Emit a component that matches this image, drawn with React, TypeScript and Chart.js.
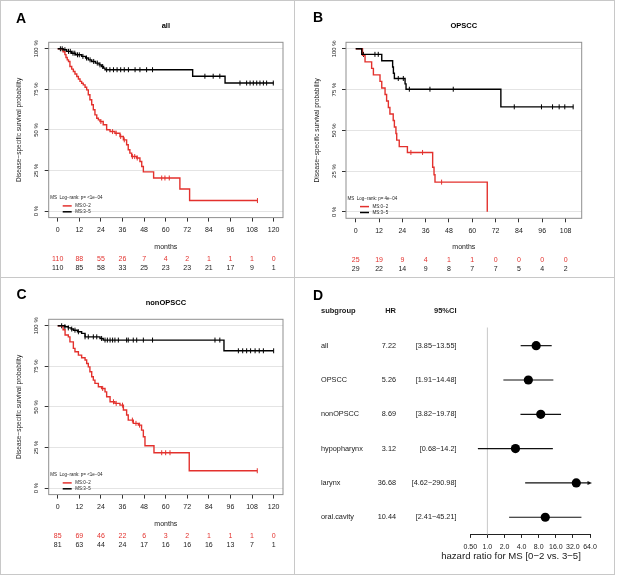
import React, { useEffect, useRef } from 'react';
import { Chart, registerables } from 'chart.js';

Chart.register(...registerables);

const FONT = '"Liberation Sans", Arial, Helvetica, sans-serif';
const RED = '#e3312d';
const INK = '#1a1a1a';
const GRID = '#e4e4e4';
const FRAME = '#c8c8c8';

// ---------- Panel A: all ----------
const aTicks = [0, 12, 24, 36, 48, 60, 72, 84, 96, 108, 120];
const aRedTime = [0, 3, 4, 4.6, 5.3, 6, 6.8, 7.8, 8.7, 9.6, 10.6, 11.5, 12.4, 13.3, 14.2, 15.2, 16.1, 17, 17.9, 18.9, 19.8, 20.7, 21.7, 22.6, 23.5, 25.3, 27.2, 29.1, 31.8, 34.6, 36.5, 38.3, 39.2, 40.1, 41.1, 43.9, 45.7, 46.7, 47.6, 53.3, 67.9, 73.3, 111];
const aRedSurv = [100, 98.2, 96.4, 94.6, 93.2, 92.2, 89.1, 87.5, 86.0, 84.5, 82.9, 81.4, 79.9, 78.8, 77.8, 76.3, 74.7, 71.7, 68.6, 65.5, 62.4, 59.3, 57.2, 56.2, 55.2, 53.2, 50.1, 49.0, 48.0, 46.0, 43.9, 40.9, 37.8, 35.7, 33.6, 32.7, 30.6, 27.5, 24.2, 20.4, 13.6, 6.5, 6.5];
const aRedCensor = [24, 30.5, 32.5, 35, 37, 41.5, 42.8, 44.2, 57.8, 59.6, 62, 111];
const aBlackTime = [0, 3, 5, 7.8, 10, 13.3, 15.5, 17, 18.9, 21, 23, 24.4, 25.5, 26.3, 75, 93, 120];
const aBlackSurv = [100, 99.4, 98.4, 97.3, 96.3, 95.3, 94.3, 93.2, 92.2, 91.2, 90.1, 89.1, 88.1, 87.1, 83.1, 78.9, 78.9];
const aBlackCensor = [1.5, 2.5, 4, 6, 7, 8.5, 9.5, 11, 12, 14, 16, 18, 20, 22, 23.5, 25, 27.2, 29, 31, 33, 35, 37, 39.3, 43, 45.7, 49.4, 52.7, 81.8, 86.4, 90.1, 101.3, 105, 106.9, 108.7, 110.6, 112.4, 114.3, 116.1, 119.8];
const aRiskRed = [110, 88, 55, 26, 7, 4, 2, 1, 1, 1, 0];
const aRiskBlack = [110, 85, 58, 33, 25, 23, 23, 21, 17, 9, 1];

// ---------- Panel B: OPSCC ----------
const bTicks = [0, 12, 24, 36, 48, 60, 72, 84, 96, 108];
const bRedTime = [0, 3.5, 4.8, 8.2, 9.1, 12.5, 13.4, 15.1, 15.9, 16.8, 17.6, 19.3, 19.9, 20.7, 21.1, 22.4, 26.6, 39.6, 40.3, 40.8, 67.7];
const bRedSurv = [100, 96, 92, 88, 84, 80, 76, 72, 68, 64, 60, 56, 52, 48, 44, 40, 36.4, 27.3, 22.7, 18.2, 0];
const bRedCensor = [28.4, 34.4, 44.2];
const bBlackTime = [0, 3.1, 13.4, 19, 19.4, 19.9, 25.4, 25.9, 74.7, 112];
const bBlackSurv = [100, 96.6, 92.7, 88.8, 85, 81.8, 78.5, 75.2, 64.4, 64.4];
const bBlackCensor = [4, 9.9, 11.6, 21.9, 24.5, 27.6, 38.2, 50.2, 81.6, 95.6, 101.3, 104.7, 107.6, 111.9];
const bRiskRed = [25, 19, 9, 4, 1, 1, 0, 0, 0, 0];
const bRiskBlack = [29, 22, 14, 9, 8, 7, 7, 5, 4, 2];

// ---------- Panel C: nonOPSCC ----------
const cTicks = [0, 12, 24, 36, 48, 60, 72, 84, 96, 108, 120];
const cRedTime = [0, 3, 4.1, 5.9, 6.8, 8.7, 9.6, 11.5, 13.3, 15.2, 16.1, 17, 17.9, 18.9, 19.8, 20.7, 22.6, 24.4, 26.3, 27.2, 29.1, 31.8, 34.6, 36.5, 38.3, 39.2, 42, 44.8, 46.6, 47.6, 48.5, 53.5, 73.1, 110.9];
const cRedSurv = [100, 97.6, 94.3, 93.2, 90.1, 86.1, 84.0, 81.9, 80.3, 78.9, 76.8, 74.7, 71.7, 68.6, 66.5, 64.5, 62.4, 61.4, 59.3, 56.3, 53.2, 52.2, 51.1, 48.1, 45.0, 41.9, 39.9, 38.8, 35.7, 31.6, 26.1, 21.8, 10.7, 10.7];
const cRedCensor = [25, 31, 32.5, 36, 41.5, 43.5, 45.5, 57.8, 60, 62.4, 110.9];
const cBlackTime = [0, 4, 5.9, 7.5, 8.7, 11, 13.3, 15.2, 23.5, 25.3, 92.4, 120];
const cBlackSurv = [100, 99.4, 98.7, 98, 97.3, 96.3, 95.3, 93.2, 92.2, 91.2, 84.6, 84.6];
const cBlackCensor = [2.2, 4, 5.9, 7.8, 9.6, 11.5, 15.2, 17, 19.8, 21.7, 24.4, 26.3, 27.6, 29.1, 30.5, 31.8, 33.7, 38.3, 39.2, 42, 43.9, 47.6, 52.7, 87.4, 90.1, 100.4, 102.8, 105, 107.2, 109.7, 112, 114.3, 120];
const cRiskRed = [85, 69, 46, 22, 6, 3, 2, 1, 1, 1, 0];
const cRiskBlack = [81, 63, 44, 24, 17, 16, 16, 16, 13, 7, 1];

const yTicks = [0, 25, 50, 75, 100];

// ---------- Panel D: forest ----------
const subgroups = ['all', 'OPSCC', 'nonOPSCC', 'hypopharynx', 'larynx', 'oral.cavity'];
const hrValues = [7.22, 5.26, 8.69, 3.12, 36.68, 10.44];
const ciLow = [3.85, 1.91, 3.82, 0.68, 4.62, 2.41];
const ciHigh = [13.55, 14.48, 19.78, 14.2, 290.98, 45.21];
const ciLabels = ['[3.85\u221213.55]', '[1.91\u221214.48]', '[3.82\u221219.78]', '[0.68\u221214.2]', '[4.62\u2212290.98]', '[2.41\u221245.21]'];
const hrTicks = [0.5, 1, 2, 4, 8, 16, 32, 64];

function stepAt(T: number[], S: number[], t: number) {
  let s = S[0];
  for (let i = 0; i < T.length; i++) if (T[i] <= t) s = S[i];
  return s;
}

type KMSpec = {
  w: number; h: number;
  plot: { l: number; t: number; r: number; b: number };
  xMin: number; xMax: number; ticks: number[];
  redT: number[]; redS: number[]; redC: number[];
  blackT: number[]; blackS: number[]; blackC: number[];
  riskRed: number[]; riskBlack: number[];
  title: string; letter: string; letterX: number; letterY: number; titleY: number;
  pText: string;
};

function kmConfig(s: KMSpec): any {
  const axisH = s.h - s.plot.b;
  const monthsOffset = 29;
  const titleFont = 7;
  const titlePadBottom = axisH - monthsOffset - (titleFont * 1.2) / 2;
  const decor = {
    id: 'kmDecor',
    afterDraw(chart: any) {
      const { ctx, chartArea: ca, scales } = chart;
      const x = scales.x, y = scales.y;
      ctx.save();
      ctx.strokeStyle = '#8f8f8f';
      ctx.lineWidth = 1;
      ctx.strokeRect(ca.left, ca.top, ca.right - ca.left, ca.bottom - ca.top);
      // y tick labels (rotated)
      ctx.fillStyle = INK;
      ctx.font = `6px ${FONT}`;
      ctx.textAlign = 'center';
      ctx.textBaseline = 'middle';
      for (const v of yTicks) {
        const py = y.getPixelForValue(v);
        ctx.save();
        ctx.translate(ca.left - 12, py);
        ctx.rotate(-Math.PI / 2);
        ctx.fillText(`${v} %`, 0, 0);
        ctx.restore();
      }
      // y title
      ctx.save();
      ctx.font = `6.5px ${FONT}`;
      ctx.translate(ca.left - 29, (y.getPixelForValue(0) + y.getPixelForValue(100)) / 2);
      ctx.rotate(-Math.PI / 2);
      ctx.fillText('Disease\u2212specific survival probability', 0, 0);
      ctx.restore();
      // panel letter
      ctx.fillStyle = '#000';
      ctx.font = `bold 14px ${FONT}`;
      ctx.textAlign = 'left';
      ctx.textBaseline = 'alphabetic';
      ctx.fillText(s.letter, s.letterX, s.letterY);
      // title
      ctx.font = `bold 7.5px ${FONT}`;
      ctx.textAlign = 'center';
      ctx.textBaseline = 'middle';
      ctx.fillText(s.title, (ca.left + ca.right) / 2, s.titleY);
      // legend
      ctx.font = `4.5px ${FONT}`;
      ctx.textAlign = 'left';
      ctx.fillStyle = INK;
      ctx.fillText(s.pText, ca.left + 1.5, ca.bottom - 20);
      ctx.lineWidth = 1.5;
      ctx.strokeStyle = RED;
      ctx.beginPath();
      ctx.moveTo(ca.left + 14, ca.bottom - 11.7);
      ctx.lineTo(ca.left + 23, ca.bottom - 11.7);
      ctx.stroke();
      ctx.strokeStyle = '#000';
      ctx.beginPath();
      ctx.moveTo(ca.left + 14, ca.bottom - 5.8);
      ctx.lineTo(ca.left + 23, ca.bottom - 5.8);
      ctx.stroke();
      ctx.fillText('MS:0\u22122', ca.left + 26.5, ca.bottom - 11.7);
      ctx.fillText('MS:3\u22125', ca.left + 26.5, ca.bottom - 5.8);
      // number at risk
      ctx.font = `7px ${FONT}`;
      ctx.textAlign = 'center';
      s.ticks.forEach((t, i) => {
        const px = x.getPixelForValue(t);
        ctx.fillStyle = RED;
        ctx.fillText(String(s.riskRed[i]), px, ca.bottom + 41.8);
        ctx.fillStyle = INK;
        ctx.fillText(String(s.riskBlack[i]), px, ca.bottom + 50.5);
      });
      ctx.restore();
    },
  };
  const line = (T: number[], S: number[], color: string) => ({
    type: 'line',
    data: T.map((t, i) => ({ x: t, y: S[i] })),
    borderColor: color,
    borderWidth: 1.4,
    stepped: 'before',
    pointRadius: 0,
    fill: false,
  });
  const cens = (T: number[], S: number[], C: number[], color: string) => ({
    type: 'line',
    data: C.map((t) => ({ x: t, y: stepAt(T, S, t) })),
    showLine: false,
    pointStyle: 'line',
    pointRotation: 90,
    pointRadius: 2.5,
    pointBorderWidth: 1,
    pointBorderColor: color,
    borderColor: color,
  });
  return {
    type: 'line',
    data: {
      datasets: [
        line(s.blackT, s.blackS, '#000'),
        line(s.redT, s.redS, RED),
        cens(s.blackT, s.blackS, s.blackC, '#000'),
        cens(s.redT, s.redS, s.redC, RED),
      ],
    },
    options: {
      responsive: false,
      animation: false,
      events: [],
      layout: { padding: { left: 0, top: s.plot.t, right: s.w - s.plot.r, bottom: 0 } },
      plugins: { legend: { display: false }, tooltip: { enabled: false }, title: { display: false } },
      scales: {
        x: {
          type: 'linear',
          min: s.xMin,
          max: s.xMax,
          afterBuildTicks: (sc: any) => { sc.ticks = s.ticks.map((v) => ({ value: v })); },
          afterFit: (sc: any) => { sc.height = axisH; },
          grid: { drawOnChartArea: false, drawTicks: true, tickLength: 4, tickColor: '#333' },
          border: { display: false },
          ticks: { font: { family: FONT, size: 7 }, color: INK, padding: 4.5, maxRotation: 0, autoSkip: false },
          title: { display: true, text: 'months', color: INK, font: { family: FONT, size: titleFont }, padding: { top: 0, bottom: titlePadBottom } },
        },
        y: {
          type: 'linear',
          min: -4,
          max: 104,
          afterBuildTicks: (sc: any) => { sc.ticks = yTicks.map((v) => ({ value: v })); },
          afterFit: (sc: any) => { sc.width = s.plot.l; },
          grid: { color: GRID, tickColor: '#333', drawTicks: true, tickLength: 4 },
          border: { display: false },
          ticks: { display: false },
        },
      },
    },
    plugins: [decor],
  };
}

function forestConfig(w: number, h: number, plot: { l: number; t: number; r: number; b: number }): any {
  const axisH = h - plot.b;
  const decor = {
    id: 'forestDecor',
    beforeDatasetsDraw(chart: any) {
      const { ctx, chartArea: ca, scales } = chart;
      const x = scales.x, y = scales.y;
      ctx.save();
      const rx = x.getPixelForValue(1);
      ctx.strokeStyle = '#c9c9c9';
      ctx.lineWidth = 1;
      ctx.beginPath();
      ctx.moveTo(rx, ca.top - 1);
      ctx.lineTo(rx, ca.bottom);
      ctx.stroke();
      ctx.strokeStyle = '#111';
      ctx.fillStyle = '#111';
      ctx.lineWidth = 1.2;
      subgroups.forEach((_, i) => {
        const py = y.getPixelForValue(i + 1);
        const lo = x.getPixelForValue(ciLow[i]);
        const hiV = Math.min(ciHigh[i], hrTicks[hrTicks.length - 1]);
        const hi = x.getPixelForValue(hiV);
        ctx.beginPath();
        ctx.moveTo(lo, py);
        ctx.lineTo(hi, py);
        ctx.stroke();
        if (ciHigh[i] > hiV) {
          ctx.beginPath();
          ctx.moveTo(hi + 2, py);
          ctx.lineTo(hi - 2.5, py - 2);
          ctx.lineTo(hi - 2.5, py + 2);
          ctx.closePath();
          ctx.fill();
        }
      });
      ctx.restore();
    },
    afterDraw(chart: any) {
      const { ctx, scales } = chart;
      const y = scales.y;
      ctx.save();
      ctx.fillStyle = '#000';
      ctx.font = `bold 14px ${FONT}`;
      ctx.textAlign = 'left';
      ctx.textBaseline = 'alphabetic';
      ctx.fillText('D', 18, 22);
      const headY = y.getPixelForValue(1) - 35;
      ctx.textBaseline = 'middle';
      ctx.fillStyle = INK;
      ctx.font = `bold 7.5px ${FONT}`;
      ctx.fillText('subgroup', 26, headY);
      ctx.textAlign = 'right';
      ctx.fillText('HR', 101, headY);
      ctx.fillText('95%CI', 161.5, headY);
      ctx.font = `7.3px ${FONT}`;
      subgroups.forEach((g, i) => {
        const py = y.getPixelForValue(i + 1);
        ctx.textAlign = 'left';
        ctx.fillText(g, 26, py);
        ctx.textAlign = 'right';
        ctx.fillText(hrValues[i].toFixed(2), 101, py);
        ctx.fillText(ciLabels[i], 161.5, py);
      });
      // x-axis title (centred as in the original, left of the axis centre)
      ctx.textAlign = 'center';
      ctx.font = `9.6px ${FONT}`;
      ctx.fillText('hazard ratio for MS [0\u22122 vs. 3\u22125]', 216, 278.7);
      ctx.restore();
    },
  };
  return {
    type: 'scatter',
    data: {
      datasets: [
        {
          data: hrValues.map((v, i) => ({ x: v, y: i + 1 })),
          pointRadius: 4.6,
          backgroundColor: '#000',
          borderWidth: 0,
          clip: false,
        },
      ],
    },
    options: {
      responsive: false,
      animation: false,
      events: [],
      layout: { padding: { left: plot.l, top: plot.t, right: w - plot.r, bottom: 0 } },
      plugins: { legend: { display: false }, tooltip: { enabled: false } },
      scales: {
        x: {
          type: 'logarithmic',
          min: hrTicks[0],
          max: hrTicks[hrTicks.length - 1],
          afterBuildTicks: (sc: any) => { sc.ticks = hrTicks.map((v) => ({ value: v })); },
          afterFit: (sc: any) => { sc.height = axisH; },
          grid: { drawOnChartArea: false, drawTicks: true, tickLength: 3.5, tickColor: '#222' },
          border: { display: true, color: '#222', width: 1 },
          ticks: {
            font: { family: FONT, size: 7 },
            color: INK,
            padding: 4.5,
            maxRotation: 0,
            autoSkip: false,
            callback: (v: number) => (v < 1 ? v.toFixed(2) : v.toFixed(1)),
          },
          title: { display: false },
        },
        y: { type: 'linear', min: 0.5, max: 6.5, reverse: true, display: false },
      },
    },
    plugins: [decor],
  };
}

const specA: KMSpec = {
  w: 294, h: 277, plot: { l: 48.7, t: 42.3, r: 283, b: 217.6 },
  xMin: -5, xMax: 125.2, ticks: aTicks,
  redT: aRedTime, redS: aRedSurv, redC: aRedCensor,
  blackT: aBlackTime, blackS: aBlackSurv, blackC: aBlackCensor,
  riskRed: aRiskRed, riskBlack: aRiskBlack,
  title: 'all', letter: 'A', letterX: 16, letterY: 23, titleY: 25.7,
  pText: 'MS  Log\u2212rank: p= <1e\u221204',
};
const specB: KMSpec = {
  w: 319, h: 277, plot: { l: 51, t: 42.3, r: 286.7, b: 218.3 },
  xMin: -5, xMax: 116.3, ticks: bTicks,
  redT: bRedTime, redS: bRedSurv, redC: bRedCensor,
  blackT: bBlackTime, blackS: bBlackSurv, blackC: bBlackCensor,
  riskRed: bRiskRed, riskBlack: bRiskBlack,
  title: 'OPSCC', letter: 'B', letterX: 18, letterY: 22, titleY: 25.7,
  pText: 'MS  Log\u2212rank: p= 4e\u221204',
};
const specC: KMSpec = {
  w: 294, h: 296, plot: { l: 48.7, t: 41.3, r: 283, b: 216.6 },
  xMin: -5, xMax: 125.2, ticks: cTicks,
  redT: cRedTime, redS: cRedSurv, redC: cRedCensor,
  blackT: cBlackTime, blackS: cBlackSurv, blackC: cBlackCensor,
  riskRed: cRiskRed, riskBlack: cRiskBlack,
  title: 'nonOPSCC', letter: 'C', letterX: 16.5, letterY: 20.5, titleY: 25.3,
  pText: 'MS  Log\u2212rank: p= <1e\u221204',
};

const lineStyle = (l: number, t: number, w: number, h: number): React.CSSProperties => ({
  position: 'absolute', left: l, top: t, width: w, height: h, background: FRAME,
});

export default function App() {
  const refA = useRef<HTMLCanvasElement>(null);
  const refB = useRef<HTMLCanvasElement>(null);
  const refC = useRef<HTMLCanvasElement>(null);
  const refD = useRef<HTMLCanvasElement>(null);

  useEffect(() => {
    document.body.style.margin = '0';
    const charts = [
      new Chart(refA.current as HTMLCanvasElement, kmConfig(specA)),
      new Chart(refB.current as HTMLCanvasElement, kmConfig(specB)),
      new Chart(refC.current as HTMLCanvasElement, kmConfig(specC)),
      new Chart(refD.current as HTMLCanvasElement, forestConfig(319, 296, { l: 175.3, t: 50.5, r: 295, b: 256.4 })),
    ];
    return () => charts.forEach((c) => c.destroy());
  }, []);

  return (
    <div style={{ position: 'relative', width: 617, height: 576, background: '#fff', overflow: 'hidden' }}>
      <canvas ref={refA} width={294} height={277} style={{ position: 'absolute', left: 0, top: 0, width: 294, height: 277 }} />
      <canvas ref={refB} width={319} height={277} style={{ position: 'absolute', left: 295, top: 0, width: 319, height: 277 }} />
      <canvas ref={refC} width={294} height={296} style={{ position: 'absolute', left: 0, top: 278, width: 294, height: 296 }} />
      <canvas ref={refD} width={319} height={296} style={{ position: 'absolute', left: 295, top: 278, width: 319, height: 296 }} />
      <div style={lineStyle(0, 0, 615, 1)} />
      <div style={lineStyle(0, 574, 615, 1)} />
      <div style={lineStyle(0, 0, 1, 575)} />
      <div style={lineStyle(614, 0, 1, 575)} />
      <div style={lineStyle(294, 0, 1, 575)} />
      <div style={lineStyle(0, 277, 615, 1)} />
    </div>
  );
}
